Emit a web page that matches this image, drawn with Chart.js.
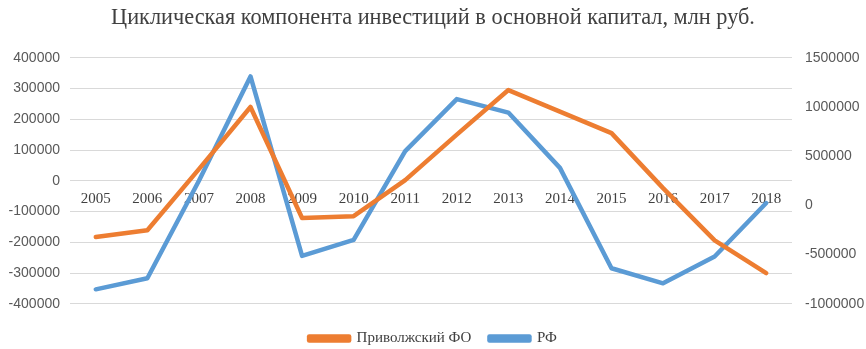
<!DOCTYPE html>
<html>
<head>
<meta charset="utf-8">
<script src="https://cdn.jsdelivr.net/npm/chart.js@4"></script>
<style>
  html, body { margin: 0; padding: 0; background: #fff; }
  #wrap { width: 866px; height: 349px; }
</style>
</head>
<body>
<div id="wrap"><canvas id="lineGraph" width="866" height="349"></canvas></div>
<script>
// годы
const years = ['2005','2006','2007','2008','2009','2010','2011','2012','2013','2014','2015','2016','2017','2018'];
// Приволжский ФО, левая ось
const privolzhsky = [-183000, -161000, 38000, 240000, -121000, -115000, 2000, 150000, 295000, 225000, 155000, -24000, -194000, -300000];
// РФ, правая ось
const rf = [-853000, -741000, 250000, 1310000, -513000, -350000, 551000, 1080000, 943000, 381000, -639000, -792000, -520000, 24000];

const leftTicks = { min: -400000, max: 400000, step: 100000 };
const rightTicks = { min: -1000000, max: 1500000, step: 500000 };

const serif = '"Liberation Serif", "Times New Roman", serif';
const sans = '"Liberation Sans", Arial, sans-serif';

let config = {
	type: 'line',
	data: {
		labels: years,
		datasets: [{
			label: 'Приволжский ФО',
			data: privolzhsky,
			borderColor: '#ED7D31',
			backgroundColor: '#ED7D31',
			yAxisID: 'y'
		}, {
			label: 'РФ',
			data: rf,
			borderColor: '#5B9BD5',
			backgroundColor: '#5B9BD5',
			yAxisID: 'y1'
		}]
	},
	options: {
		responsive: false,
		animation: false,
		layout: { padding: { left: 0, right: 0, top: 0, bottom: -7 } },
		elements: {
			line: { borderWidth: 4.5, tension: 0, borderCapStyle: 'round', borderJoinStyle: 'round' },
			point: { radius: 0 }
		},
		plugins: {
			title: {
				display: true,
				text: 'Циклическая компонента инвестиций в основной капитал, млн руб.',
				color: '#404040',
				font: { family: serif, size: 22.3, weight: 'normal' },
				padding: { top: 5, bottom: 26 }
			},
			legend: {
				position: 'bottom',
				// пустой заголовок легенды - только для отступа сверху
				title: { display: true, text: '', font: { size: 1 }, padding: { top: 8, bottom: 0 } },
				labels: {
					boxWidth: 40,
					boxHeight: 4,
					color: '#404040',
					font: { family: serif, size: 15 },
					padding: 18
				}
			},
			tooltip: { enabled: false }
		},
		scales: {
			x: {
				position: { y: 0 },
				offset: true,
				grid: { display: false, drawTicks: false },
				border: { display: false },
				ticks: { color: '#404040', font: { family: serif, size: 15 }, padding: 9, maxRotation: 0 }
			},
			y: {
				position: 'left',
				min: leftTicks.min,
				max: leftTicks.max,
				grid: { color: '#D9D9D9', drawTicks: false },
				border: { display: false },
				ticks: {
					stepSize: leftTicks.step, color: '#595959', font: { family: sans, size: 14 }, padding: 10,
					callback: (v) => String(v)
				},
				afterFit: (scale) => { scale.width = 70; }
			},
			y1: {
				position: 'right',
				min: rightTicks.min,
				max: rightTicks.max,
				grid: { display: false, drawTicks: false },
				border: { display: false },
				ticks: {
					stepSize: rightTicks.step, color: '#595959', font: { family: sans, size: 14 }, padding: 13,
					callback: (v) => String(v)
				},
				afterFit: (scale) => { scale.width = 74; }
			}
		}
	}
};

new Chart(document.getElementById('lineGraph'), config);
</script>
</body>
</html>
